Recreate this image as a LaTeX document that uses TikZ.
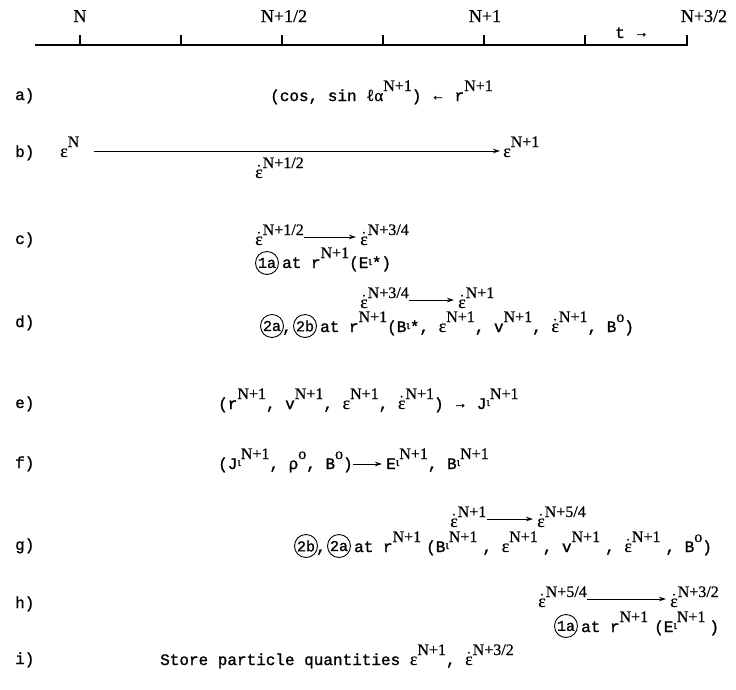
\documentclass[tikz,border=0pt]{standalone}
\usepackage{fontspec}
\setmainfont[FakeBold=0.6]{Liberation Serif}
\newfontfamily\tw[FakeBold=1.2]{Liberation Mono}
\usetikzlibrary{arrows.meta}
\newcommand\supf{\rmfamily\fontsize{16}{16}\selectfont}
\newcommand\Sx[2][0pt]{\raisebox{10pt}{\supf #2}\kern#1}
\newcommand\eps{{\rmfamily\fontsize{18}{18}\selectfont ε}}
\newcommand\Ed{\leavevmode\rlap{\kern2.5pt\raisebox{10pt}{\rmfamily\fontsize{7}{7}\selectfont •}}\eps}
\newcommand\Io{\raisebox{3pt}{\rmfamily\fontsize{13}{13}\selectfont ι}}
\newcommand\Ar[1]{\raisebox{1pt}{\rmfamily\fontsize{14}{14}\selectfont #1}}
\begin{document}
\begin{tikzpicture}[x=1pt,y=-1pt,
  tx/.style={anchor=base west,inner sep=0pt,font=\tw\fontsize{16}{16}\selectfont},
  tick/.style={font=\rmfamily\fontsize{18}{18}\selectfont,anchor=base,inner sep=0pt},
  rowlbl/.style={anchor=base west,inner sep=0pt,font=\tw\fontsize{16}{16}\selectfont},
  cl/.style={circle,draw,line width=0.9pt,minimum size=23pt,inner sep=0pt,font=\tw\fontsize{15}{15}\selectfont},
  arr/.style={line width=0.9pt,-{Stealth[length=7pt,width=4.5pt]}},
  axis/.style={line width=1.3pt},
  tk/.style={line width=1.6pt}]
\useasboundingbox (0,0) rectangle (736,689);
% time axis
\coordinate (axL) at (35,45);
\coordinate (axR) at (688,45);
\draw[axis] (axL) -- (axR);
\foreach \i/\x in {0/80,1/181,2/282,3/383,4/484,5/585,6/687}{
  \coordinate (tb\i) at (\x,45);
  \coordinate (tt\i) at (\x,35);
  \draw[tk] (tb\i) -- (tt\i);
}
\node[tick] (lN) at (80,22) {N};
\node[tick] (lNh) at (284,22) {N+1/2};
\node[tick] (lN1) at (485,22) {N+1};
\node[tick] (lN3) at (704,22) {N+3/2};
\node[tx] (tlab) at (615,38) {t \Ar{→}};
% row labels
\node[rowlbl] (ra) at (15,100) {a)};
\node[rowlbl] (rb) at (15,157) {b)};
\node[rowlbl] (rc) at (15,244) {c)};
\node[rowlbl] (rd) at (15,327) {d)};
\node[rowlbl] (re) at (15,408) {e)};
\node[rowlbl] (rf) at (15,468) {f)};
\node[rowlbl] (rg) at (15,550) {g)};
\node[rowlbl] (rh) at (15,608) {h)};
\node[rowlbl] (ri) at (15,664) {i)};
% a)
\node[tx] (a1) at (270,101) {(cos, sin {\rmfamily\fontsize{17}{17}\selectfont ℓα}\Sx{N+1}) \Ar{←} r\Sx{N+1}};
% b)
\node[tx] (b1) at (60,157) {\eps\Sx{N}};
\node[tx] (b2) at (503,157) {\eps\Sx{N+1}};
\draw[arr] ([shift={(14,-6)}]b1.base east) -- ([shift={(-3,-6)}]b2.base west);
\node[tx] (b3) at (255,178) {\Ed\Sx{N+1/2}};
% c)
\node[tx] (c1) at (255,245) {\Ed\Sx{N+1/2}};
\node[tx] (c2) at (360,245) {\Ed\Sx{N+3/4}};
\draw[arr] ([shift={(0,-8)}]c1.base east) -- ([shift={(-4,-8)}]c2.base west);
\node[cl] (c3) at (267,263) {1a};
\node[tx] (c4) at (282,268) {at r\Sx{N+1}(E\Io*)};
% d)
\node[tx] (d1) at (360,308) {\Ed\Sx{N+3/4}};
\node[tx] (d2) at (458,308) {\Ed\Sx{N+1}};
\draw[arr] ([shift={(0,-8)}]d1.base east) -- ([shift={(-4,-8)}]d2.base west);
\node[cl] (d3) at (272,326) {2a};
\node[tx] (d3c) at (282,332) {,};
\node[cl] (d4) at (305,326) {2b};
\node[tx] (d5) at (320,332) {at r\Sx{N+1}(B\Io*, \eps\Sx{N+1}, v\Sx{N+1}, \Ed\Sx{N+1}, B\Sx{o})};
% e)
\node[tx] (e1) at (218,409) {(r\Sx{N+1}, v\Sx{N+1}, \eps\Sx{N+1}, \Ed\Sx{N+1}) \Ar{→} J\Io\Sx{N+1}};
% f)
\node[tx] (f1) at (218,469) {(J\Io\Sx{N+1}, ρ\Sx{o}, B\Sx{o})};
\node[tx] (f2) at (386,469) {E\Io\Sx{N+1}, B\Io\Sx{N+1}};
\draw[arr] ([shift={(0,-5)}]f1.base east) -- ([shift={(-4,-5)}]f2.base west);
% g)
\node[tx] (g1) at (450,527) {\Ed\Sx{N+1}};
\node[tx] (g2) at (537,527) {\Ed\Sx{N+5/4}};
\draw[arr] ([shift={(0,-8)}]g1.base east) -- ([shift={(-4,-8)}]g2.base west);
\node[cl] (g3) at (306,546) {2b};
\node[tx] (g3c) at (316,552) {,};
\node[cl] (g4) at (339,546) {2a};
\node[tx] (g5) at (354,552) {at r\Sx[5pt]{N+1}(B\Io\Sx[5pt]{N+1}, \eps\Sx[5pt]{N+1}, v\Sx[5pt]{N+1}, \Ed\Sx[5pt]{N+1}, B\Sx{o})};
% h)
\node[tx] (h1) at (538,607) {\Ed\Sx{N+5/4}};
\node[tx] (h2) at (670,607) {\Ed\Sx{N+3/2}};
\draw[arr] ([shift={(0,-8)}]h1.base east) -- ([shift={(-4,-8)}]h2.base west);
\node[cl] (h3) at (566,626) {1a};
\node[tx] (h4) at (581,632) {at r\Sx[6pt]{N+1}(E\Io\Sx[4pt]{N+1})};
% i)
\node[tx] (i1) at (160,665) {Store particle quantities \eps\Sx{N+1}, \Ed\Sx{N+3/2}};
\end{tikzpicture}
\end{document}
